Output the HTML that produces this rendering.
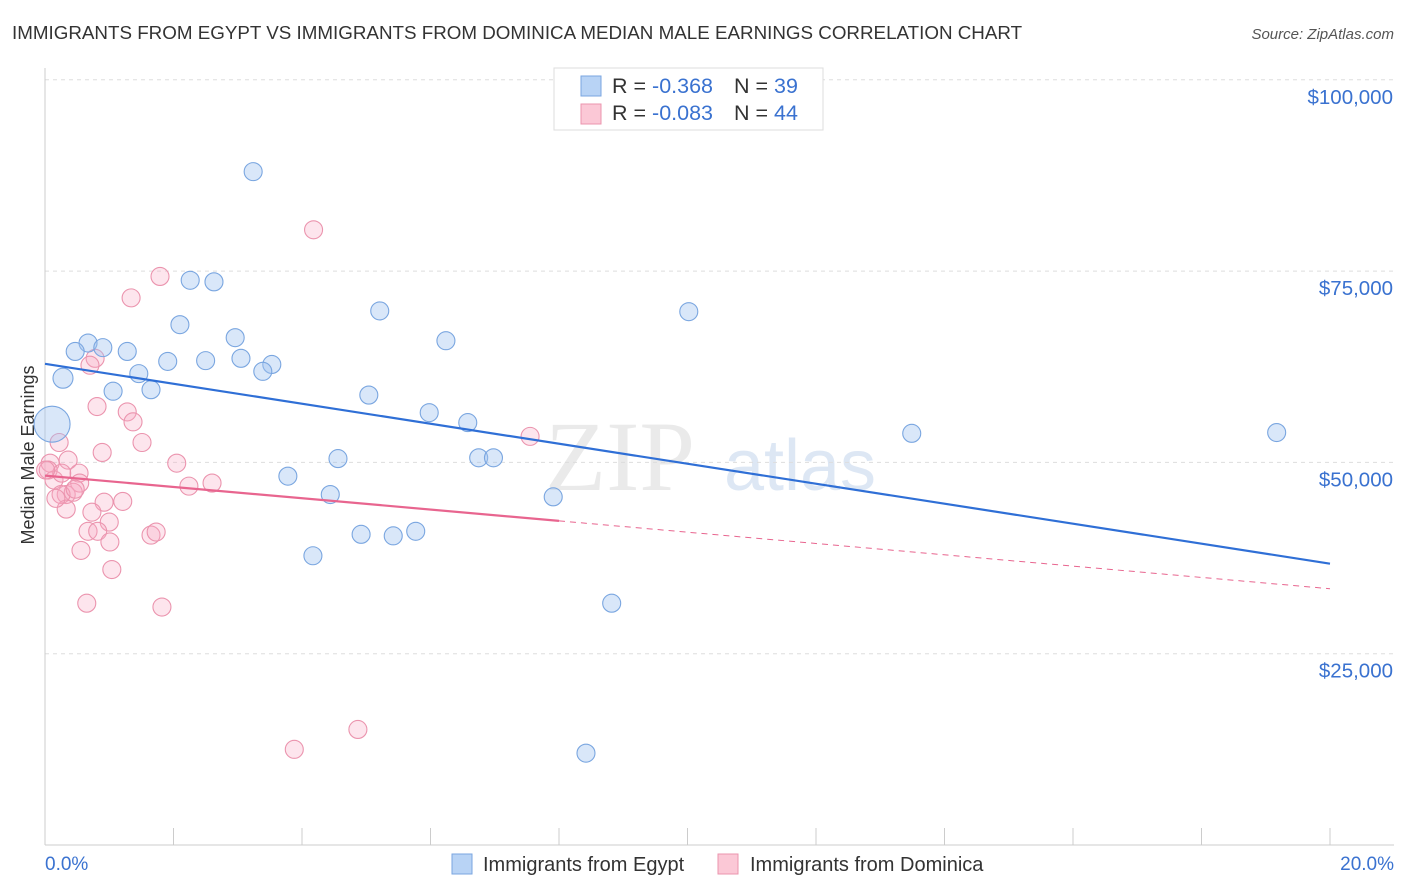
<!DOCTYPE html>
<html><head><meta charset="utf-8"><style>
body{margin:0;background:#fff;font-family:"Liberation Sans",sans-serif;}
svg{display:block}
</style></head><body>
<svg id="c" width="1406" height="892" xmlns="http://www.w3.org/2000/svg">
<text x="12" y="39" font-size="18.8" fill="#333">IMMIGRANTS FROM EGYPT VS IMMIGRANTS FROM DOMINICA MEDIAN MALE EARNINGS CORRELATION CHART</text>
<text x="1394" y="39" font-size="15" fill="#555" font-style="italic" text-anchor="end">Source: ZipAtlas.com</text>
<text x="620" y="490" font-size="100" fill="#ddd" font-family="Liberation Serif,serif" text-anchor="middle" opacity="0.6">ZIP</text>
<text x="800" y="490" font-size="72" fill="#c8d8ee" text-anchor="middle" opacity="0.6">atlas</text>
<text transform="translate(34,455) rotate(-90)" font-size="18" fill="#333" text-anchor="middle">Median Male Earnings</text>
<g id="grid"></g><g id="pts"></g><g id="lines"></g>
<g>
<rect x="554" y="68" width="269" height="62" fill="#fff" stroke="#ddd"/>
<rect x="581" y="76" width="20" height="20" fill="#b8d3f5" stroke="#7aa6e0"/>
<rect x="581" y="104" width="20" height="20" fill="#fbc8d6" stroke="#eb94ae"/>
<text x="612" y="93" font-size="21.5" fill="#333">R = <tspan fill="#3a72d0">-0.368</tspan><tspan x="734">N = </tspan><tspan fill="#3a72d0">39</tspan></text>
<text x="612" y="120" font-size="21.5" fill="#333">R = <tspan fill="#3a72d0">-0.083</tspan><tspan x="734">N = </tspan><tspan fill="#3a72d0">44</tspan></text>
</g>
<g>
<rect x="452" y="854" width="20" height="20" fill="#b8d3f5" stroke="#7aa6e0"/>
<text x="483" y="871" font-size="20" fill="#333">Immigrants from Egypt</text>
<rect x="718" y="854" width="20" height="20" fill="#fbc8d6" stroke="#eb94ae"/>
<text x="750" y="871" font-size="20" fill="#333">Immigrants from Dominica</text>
</g>
<text x="45" y="870" font-size="19" fill="#3a72d0">0.0%</text>
<text x="1394" y="870" font-size="19" fill="#3a72d0" text-anchor="end">20.0%</text>
</svg>
<script>
const yTicks=[25000,50000,75000,100000];
const yTickLabels=["$25,000","$50,000","$75,000","$100,000"];
const egyptX=[3.24,2.26,2.63,2.1,2.96,5.21,10.02,6.24,0.67,0.47,0.9,1.28,1.91,2.5,3.05,3.53,3.39,1.46,0.28,1.06,1.65,5.04,0.11,5.98,6.58,13.49,19.17,4.56,6.75,6.98,3.78,4.44,7.91,4.92,5.42,5.77,4.17,8.82,8.42];
const egyptY=[88000,73800,73600,68000,66300,69800,69700,65900,65600,64500,65000,64500,63200,63300,63600,62800,61900,61600,61000,59300,59500,58800,55000,56500,55200,53800,53900,50500,50600,50600,48200,45800,45500,40600,40400,41000,37800,31600,12000];
const egyptR=[9,9,9,9,9,9,9,9,9,9,9,9,9,9,9,9,9,9,10,9,9,9,18,9,9,9,9,9,9,9,9,9,9,9,9,9,9,9,9];
const domX=[4.18,1.79,1.34,0.78,0.7,0.81,1.28,1.37,1.51,0.22,0.89,0.36,0.08,2.05,0.05,0.53,0.54,0.14,0.33,0.44,0.25,0.92,1.21,2.6,2.24,7.55,0.33,1.0,0.67,0.82,1.01,1.65,1.73,0.56,1.04,0.65,1.82,4.87,3.88,0.26,0.47,0.17,0.01,0.73];
const domY=[80400,74300,71500,63600,62700,57300,56600,55300,52600,52600,51300,50300,49900,49900,49000,48600,47300,47700,45800,46100,45800,44800,44900,47300,46900,53400,43900,42200,41000,41000,39600,40500,40900,38500,36000,31600,31100,15100,12500,48600,46500,45300,49000,43500];
const X0=45,X1=1330,Y0=845,PY=765.2/100000;
const xs=v=>X0+v/20*(X1-X0), ys=v=>Y0-v*PY;
const NS="http://www.w3.org/2000/svg";
function mk(t,a,p){const e=document.createElementNS(NS,t);for(const k in a)e.setAttribute(k,a[k]);p.appendChild(e);return e;}
const g=document.getElementById('grid');
yTicks.forEach((t,i)=>{
 const l=mk('line',{x1:X0,x2:1394,y1:ys(t),y2:ys(t),stroke:'#ddd','stroke-dasharray':'4,4'},g);
 
 
 const tx=mk('text',{x:1393,y:ys(t)+24,'font-size':20.5,fill:'#3a72d0','text-anchor':'end'},g);
 tx.textContent=yTickLabels[i];
 
 
});
mk('line',{x1:X0,x2:1394,y1:Y0,y2:Y0,stroke:'#ccc'},g);
mk('line',{x1:X0,x2:X0,y1:68,y2:Y0,stroke:'#ccc'},g);
for(let i=1;i<=10;i++){const x=xs(i*2);const t=mk('line',{x1:x,x2:x,y1:828,y2:Y0,stroke:'#ccc'},g);
 
 }
const p=document.getElementById('pts');
domX.forEach((v,i)=>{const c=mk('circle',{cx:xs(v),cy:ys(domY[i]),r:9,fill:'rgba(248,170,195,0.3)',stroke:'#eb94ae','stroke-width':1.1},p);
 
 });
egyptX.forEach((v,i)=>{const c=mk('circle',{cx:xs(v),cy:ys(egyptY[i]),r:egyptR[i],fill:'rgba(160,195,240,0.4)',stroke:'#7aa6e0','stroke-width':1.1},p);
 
 });
function fit(X,Y){const n=X.length;let mx=0,my=0;X.forEach((v,i)=>{mx+=v;my+=Y[i]});mx/=n;my/=n;let sxy=0,sxx=0;X.forEach((v,i)=>{sxy+=(v-mx)*(Y[i]-my);sxx+=(v-mx)**2});const b=sxy/sxx;return [my-b*mx,b];}
const L=document.getElementById('lines');
const [ea,eb]=fit(egyptX,egyptY);
const el=mk('line',{x1:xs(0),y1:ys(ea),x2:xs(20),y2:ys(ea+eb*20),stroke:'#2f6fd6','stroke-width':2.2},L);


const [da,db]=fit(domX,domY);
const xm=8.0;
const dl=mk('line',{x1:xs(0),y1:ys(da),x2:xs(xm),y2:ys(da+db*xm),stroke:'#e8658f','stroke-width':2.2},L);


const dd=mk('line',{x1:xs(xm),y1:ys(da+db*xm),x2:xs(20),y2:ys(da+db*20),stroke:'#e8658f','stroke-width':1,'stroke-dasharray':'6,5'},L);


</script>
</body></html>
